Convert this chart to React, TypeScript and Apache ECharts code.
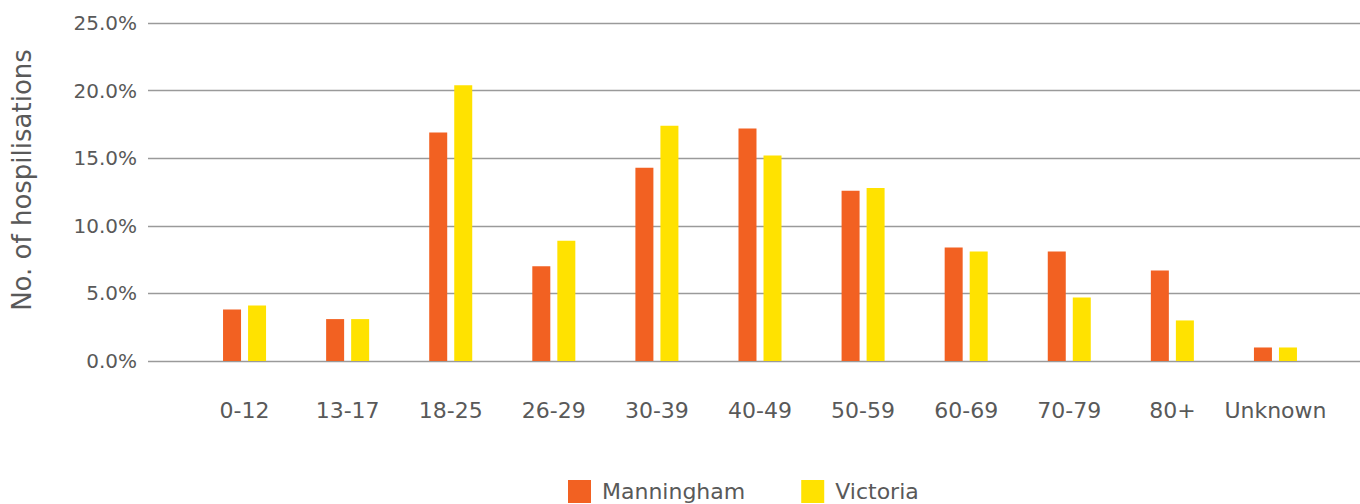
import React, { useEffect, useRef } from "react";
import * as echarts from "echarts";

const categories = ["0-12", "13-17", "18-25", "26-29", "30-39", "40-49", "50-59", "60-69", "70-79", "80+", "Unknown"];
const manningham = [3.8, 3.1, 16.9, 7.0, 14.3, 17.2, 12.6, 8.4, 8.1, 6.7, 1.0];
const victoria = [4.1, 3.1, 20.4, 8.9, 17.4, 15.2, 12.8, 8.1, 4.7, 3.0, 1.0];
const seriesNames = ["Manningham", "Victoria"];
const yMin = 0;
const yMax = 25;
const yInterval = 5;
const yTitle = "No. of hospilisations";

const FONT = "'DejaVu Sans', sans-serif";
const TEXT = "#595959";

export default function App() {
  const ref = useRef<HTMLDivElement>(null);
  useEffect(() => {
    if (!ref.current) return;
    const chart = echarts.init(ref.current, null, { renderer: "svg" });
    chart.setOption({
      animation: false,
      backgroundColor: "#ffffff",
      textStyle: { fontFamily: FONT },
      grid: [
        { left: 148, right: 0, top: 23, height: 338 },
        { left: 193, width: 1134, top: 23, height: 338 },
      ],
      legend: {
        data: seriesNames,
        left: 568,
        top: 480,
        padding: 0,
        icon: "rect",
        itemWidth: 23,
        itemHeight: 23,
        itemGap: 56,
        textStyle: { fontFamily: FONT, fontSize: 22, color: TEXT, padding: [0, 0, 0, 6] },
      },
      xAxis: [
        { type: "category", gridIndex: 0, data: categories, show: false },
        {
          type: "category",
          gridIndex: 1,
          data: categories,
          axisLine: { show: false },
          axisTick: { show: false },
          axisLabel: { interval: 0, fontFamily: FONT, fontSize: 22, color: TEXT, margin: 38 },
        },
      ],
      yAxis: [
        {
          type: "value",
          gridIndex: 0,
          min: yMin,
          max: yMax,
          interval: yInterval,
          axisLine: { show: false },
          axisTick: { show: false },
          axisLabel: {
            fontFamily: FONT,
            fontSize: 20,
            color: TEXT,
            margin: 11,
            formatter: (v: number) => v.toFixed(1) + "%",
          },
          splitLine: { lineStyle: { color: "#9a9a9a", width: 1.3 } },
        },
        {
          type: "value",
          gridIndex: 1,
          min: yMin,
          max: yMax,
          interval: yInterval,
          show: false,
          splitLine: { show: false },
        },
      ],
      graphic: [
        {
          type: "text",
          x: 22,
          y: 180,
          rotation: Math.PI / 2,
          style: {
            text: yTitle,
            fontFamily: FONT,
            fontSize: 26,
            fill: TEXT,
            align: "center",
            verticalAlign: "middle",
          },
        },
      ],
      series: [
        {
          name: seriesNames[0],
          type: "bar",
          xAxisIndex: 1,
          yAxisIndex: 1,
          data: manningham,
          barWidth: 18,
          barGap: "39%",
          itemStyle: { color: "#F26122" },
        },
        {
          name: seriesNames[1],
          type: "bar",
          xAxisIndex: 1,
          yAxisIndex: 1,
          data: victoria,
          barWidth: 18,
          barGap: "39%",
          itemStyle: { color: "#FFE200" },
        },
      ],
    });
    return () => chart.dispose();
  }, []);
  return (
    <div
      ref={ref}
      style={{ position: "fixed", left: 0, top: 0, width: 1360, height: 504 }}
    />
  );
}
